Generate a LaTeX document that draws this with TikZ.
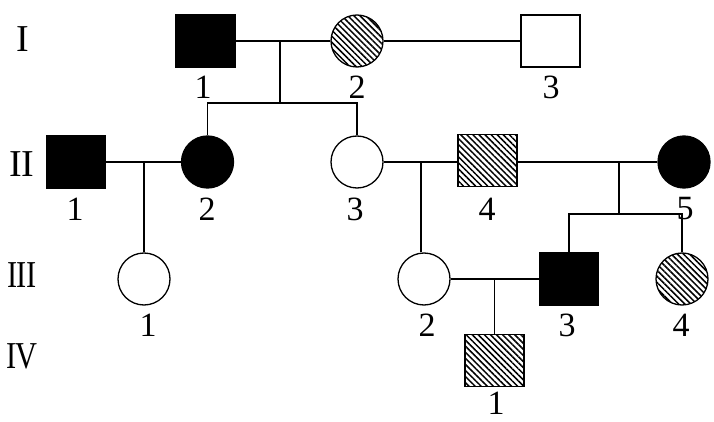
\documentclass[tikz,border=0pt]{standalone}
\usepackage{fontspec}
\setmainfont{Liberation Serif}
\usetikzlibrary{patterns.meta}
\begin{document}
\begin{tikzpicture}[x=1pt,y=-1pt,
  every path/.style={line width=1.3pt},
  male/.style={draw, line width=1.3pt, rectangle, minimum width=59pt, minimum height=52pt, inner sep=0pt},
  female/.style={draw, line width=1.3pt, circle, minimum size=52pt, inner sep=0pt},
  aff/.style={fill=black},
  hatch/.style={pattern={Lines[angle=-45,distance=4.3pt,line width=1.5pt]}},
  lbl/.style={inner sep=0pt, font=\fontsize{34}{36}\selectfont},
  gen/.style={inner sep=0pt, font=\fontsize{38}{40}\selectfont}]
\useasboundingbox (0,0) rectangle (714,422);
% generation labels
\node[gen] (g1) at (23,39) {I};
\node[gen] (g2) at (22,164) {I\kern-0.9pt I};
\node[gen] (g3) at (22,275) {\scalebox{0.8}[1]{I\kern-0.9pt I\kern-0.9pt I}};
\node[gen] (g4) at (22,356) {\scalebox{0.8}[1]{I\kern-1.5pt V}};
% generation I
\node[male,aff] (i1) at (205.5,41) {};
\node[female,hatch] (i2) at (357,41) {};
\node[male] (i3) at (550.5,41) {};
% generation II
\node[male,aff] (ii1) at (76,162) {};
\node[female,aff] (ii2) at (207.5,162) {};
\node[female] (ii3) at (357,162) {};
\node[male,hatch] (ii4) at (487.5,160.5) {};
\node[female,aff] (ii5) at (684,162) {};
% generation III
\node[female] (iii1) at (144,279) {};
\node[female] (iii2) at (424,279) {};
\node[male,aff] (iii3) at (569,279) {};
\node[female,hatch] (iii4) at (682,279) {};
% generation IV
\node[male,hatch] (iv1) at (494.5,360.5) {};
% numbers
\node[lbl] (n11) at (203,87) {1};
\node[lbl] (n12) at (357,87) {2};
\node[lbl] (n13) at (551,87) {3};
\node[lbl] (n21) at (75,209) {1};
\node[lbl] (n22) at (207,209) {2};
\node[lbl] (n23) at (355,209) {3};
\node[lbl] (n24) at (487,209) {4};
\node[lbl] (n25) at (685,209) {5};
\node[lbl] (n31) at (148,325) {1};
\node[lbl] (n32) at (427,325) {2};
\node[lbl] (n33) at (567,325) {3};
\node[lbl] (n34) at (681,325) {4};
\node[lbl] (n41) at (496,403) {1};
% connectors
\coordinate (m1) at (280,41);
\coordinate (s1) at (280,103);
\coordinate (m2) at (144,162);
\coordinate (m3) at (421,162);
\coordinate (m4) at (619,162);
\coordinate (s4) at (619,214);
\coordinate (m5) at (494.5,279);
\draw (i1) -- (i2);
\draw (i2) -- (i3);
\draw (m1) -- (s1);
\draw (ii2.north) |- (s1) -| (ii3.north);
\draw (ii1) -- (ii2);
\draw (m2) -- (iii1.north);
\draw (ii3.east) -- (ii3.east -| ii4.west);
\draw (ii5.west -| ii4.east) -- (ii5.west);
\draw (m3) -- (m3 |- iii2.north);
\draw (m4) -- (s4);
\draw (iii3.north) |- (s4) -| (iii4.north);
\draw (iii2) -- (iii3);
\draw (m5) -- (iv1.north);
\end{tikzpicture}
\end{document}
